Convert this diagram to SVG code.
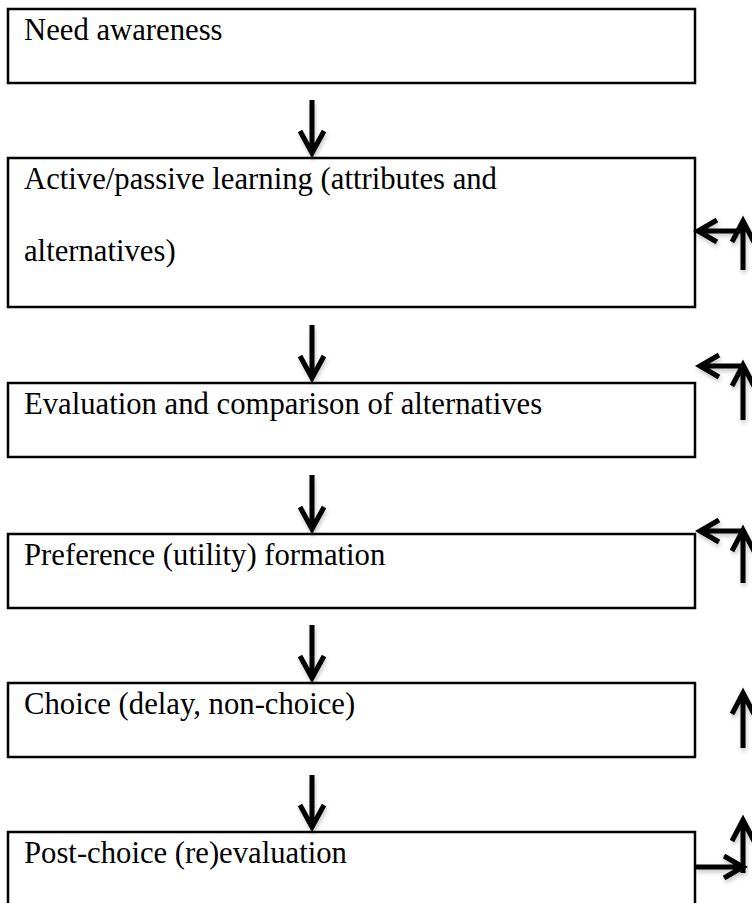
<svg xmlns="http://www.w3.org/2000/svg" width="752" height="903" viewBox="0 0 752 903">
<style>
.box{fill:#fff;stroke:#000;stroke-width:2.5}
.lbl{font-family:"Liberation Serif","Times New Roman",serif;font-size:30.7px;fill:#000}
.arr{fill:none;stroke:#000;stroke-width:5;stroke-linejoin:miter;stroke-linecap:butt}
</style>
<defs>
<filter id="sh" x="-50%" y="-50%" width="200%" height="200%">
<feDropShadow dx="1" dy="3" stdDeviation="2" flood-color="#000" flood-opacity="0.22"/>
</filter>
</defs>
<rect width="752" height="903" fill="#fff"/>
<g id="n1"><rect class="box" x="8" y="9" width="687" height="74"/><text class="lbl" x="24" y="40">Need awareness</text></g>
<g id="n2"><rect class="box" x="8" y="158" width="687" height="149"/><text class="lbl" x="24" y="189">Active/passive learning (attributes and</text><text class="lbl" x="24" y="261">alternatives)</text></g>
<g id="n3"><rect class="box" x="8" y="383" width="687" height="74"/><text class="lbl" x="24" y="414">Evaluation and comparison of alternatives</text></g>
<g id="n4"><rect class="box" x="8" y="534" width="687" height="74"/><text class="lbl" x="24" y="565">Preference (utility) formation</text></g>
<g id="n5"><rect class="box" x="8" y="683" width="687" height="74"/><text class="lbl" x="24" y="714">Choice (delay, non-choice)</text></g>
<g id="n6"><rect class="box" x="8" y="832" width="687" height="80"/><text class="lbl" x="24" y="863">Post-choice (re)evaluation</text></g>
<g id="connectors" filter="url(#sh)">
<path class="arr" d="M312,100V151M300,131L312,153L324,131"/>
<path class="arr" d="M312,325V376M300,356L312,378L324,356"/>
<path class="arr" d="M312,475V527M300,507L312,529L324,507"/>
<path class="arr" d="M312,625V676M300,656L312,678L324,656"/>
<path class="arr" d="M312,775V825M300,805L312,827L324,805"/>
<path class="arr" d="M743,270V224M732,242L743,221L754,242"/>
<path class="arr" d="M743,231H701M717,220L698,231L717,242"/>
<path class="arr" d="M743,420V367M732,386L743,365L754,386"/>
<path class="arr" d="M743,366H703M719,355L700,366L719,377"/>
<path class="arr" d="M743,583V532M732,551L743,530L754,551"/>
<path class="arr" d="M743,531H703M719,520L700,531L719,542"/>
<path class="arr" d="M743,748V695M732,714L743,693L754,714"/>
<path class="arr" d="M743,873V822M732,841L743,820L754,841"/>
<path class="arr" d="M696,867H740M724,856L743,867L724,878"/>
</g>
</svg>
